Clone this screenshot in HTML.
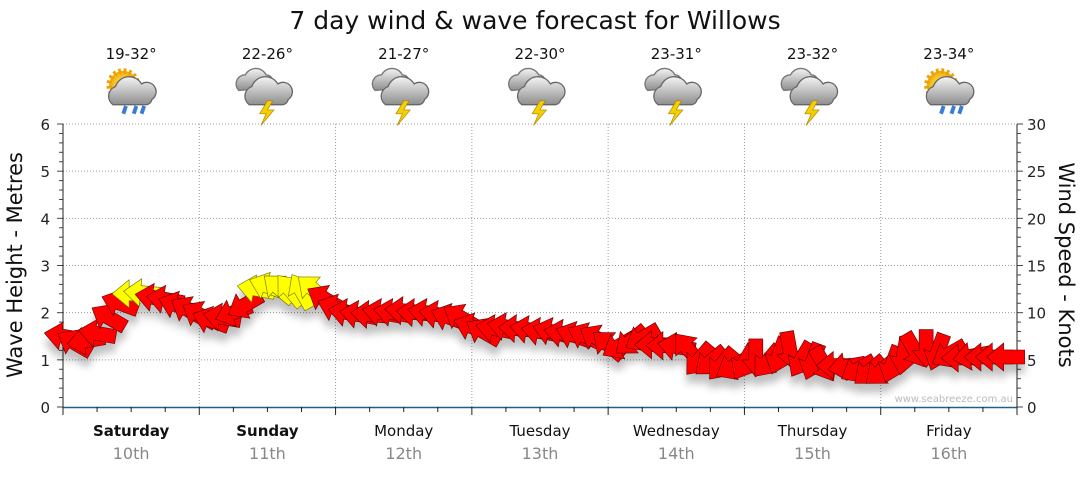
<!DOCTYPE html>
<html><head><meta charset="utf-8"><style>
body{margin:0;background:#fff;width:1080px;height:475px;overflow:hidden;font-family:"Liberation Sans","DejaVu Sans",sans-serif}
svg text{font-family:"DejaVu Sans","Liberation Sans",sans-serif}
</style></head><body>
<svg id="c" width="1080" height="475">
<defs>
<filter id="sh" x="-50%" y="-50%" width="200%" height="250%"><feGaussianBlur in="SourceAlpha" stdDeviation="4"/><feOffset dy="9"/><feComponentTransfer><feFuncA type="linear" slope="0.25"/></feComponentTransfer><feMerge><feMergeNode/><feMergeNode in="SourceGraphic"/></feMerge></filter>
<radialGradient id="sun" cx="50%" cy="50%" r="50%"><stop offset="0" stop-color="#fff27a"/><stop offset="1" stop-color="#f0a800"/></radialGradient>
<linearGradient id="cl" x1="0" y1="0" x2="0" y2="1"><stop offset="0" stop-color="#f4f4f4"/><stop offset="1" stop-color="#8e8e8e"/></linearGradient>
</defs>
<text x="535" y="29" text-anchor="middle" font-size="25" fill="#111">7 day wind &amp; wave forecast for Willows</text>
<g id="grid"></g><g id="axes"></g><g id="icons"></g><g id="arrows" filter="url(#sh)"></g>
<text x="1013" y="402" text-anchor="end" font-size="10" fill="#bbb">www.seabreeze.com.au</text>
<text transform="translate(22,265) rotate(-90)" text-anchor="middle" font-size="21" fill="#111">Wave Height - Metres</text>
<text transform="translate(1059,265) rotate(90)" text-anchor="middle" font-size="21" fill="#111">Wind Speed - Knots</text>
</svg>
<script>
const days=["Saturday","Sunday","Monday","Tuesday","Wednesday","Thursday","Friday"];
const dates=["10th","11th","12th","13th","14th","15th","16th"];
const temps=["19-32°","22-26°","21-27°","22-30°","23-31°","23-32°","23-34°"];
const iconTypes=["sunstorm","storm","storm","storm","storm","storm","sunstorm"];
const waveTicks=[0,1,2,3,4,5,6];
const windTicks=[0,5,10,15,20,25,30];
const windSpeed=[7.5,6.8,7.0,7.8,9.5,11.0,12.0,12.1,11.6,11.4,10.8,10.3,
9.8,9.2,9.5,10.0,10.8,12.5,12.8,12.6,12.4,12.3,12.5,11.5,
10.5,10.0,9.8,9.8,10.0,10.0,10.2,10.0,10.0,9.8,9.5,9.5,
8.5,8.0,8.3,8.5,8.3,8.2,8.0,8.0,7.8,7.6,7.5,7.3,
6.6,6.5,7.0,7.3,6.6,6.5,6.4,6.2,5.0,4.8,4.5,4.3,
4.7,5.2,4.8,5.4,6.0,5.0,4.8,4.5,4.4,4.3,4.0,3.8,
3.8,4.5,5.4,6.0,6.2,5.8,5.6,5.2,5.4,5.3,5.3,5.3];
const windDir=[100,120,80,100,120,110,90,95,100,100,110,120,
120,110,100,70,60,100,110,130,140,150,130,120,
110,100,100,95,100,100,95,95,100,100,110,120,
110,120,100,100,95,100,100,105,100,110,115,120,
130,60,50,60,90,90,100,140,40,50,40,60,
30,0,40,20,350,30,20,330,90,80,60,50,
50,20,10,330,0,20,60,90,80,90,90,90];
const X0=63,X1=1017,Y0=407,Y1=124,HOURS=168,STEP=2;
const xS=h=>X0+(X1-X0)*h/HOURS;
const yW=m=>Y0-(Y0-Y1)*m/6;
const yK=k=>Y0-(Y0-Y1)*k/30;
const NS="http://www.w3.org/2000/svg";
function mk(tag,at,parent){const e=document.createElementNS(NS,tag);for(const k in at)e.setAttribute(k,at[k]);parent.appendChild(e);return e;}
const grid=document.getElementById('grid'),axes=document.getElementById('axes'),icons=document.getElementById('icons'),arrows=document.getElementById('arrows');
waveTicks.forEach(v=>{if(v>0){const l=mk('line',{x1:X0,x2:X1,y1:yW(v),y2:yW(v),stroke:'#999','stroke-dasharray':'1,2'},grid);

}
const t=mk('text',{x:50,y:yW(v)+6,'text-anchor':'end','font-size':15,fill:'#222'},axes);t.textContent=v;

});
for(let i=0;i<=30;i++){const y=Y0-(Y0-Y1)*i/30;mk('line',{x1:X0-(i%5==0?6:4),x2:X0,y1:y,y2:y,stroke:'#444'},axes);}
windTicks.forEach(v=>{const t=mk('text',{x:1027,y:yK(v)+6,'font-size':15,fill:'#222'},axes);t.textContent=v;

});
for(let i=0;i<=30;i++){const y=yK(i);mk('line',{x1:X1,x2:X1+(i%5==0?6:4),y1:y,y2:y,stroke:'#444'},axes);}
mk('line',{x1:X0,x2:X0,y1:Y1,y2:Y0,stroke:'#222'},axes);
mk('line',{x1:X1,x2:X1,y1:Y1,y2:Y0,stroke:'#222'},axes);
mk('line',{x1:X0,x2:X1,y1:Y0+0.5,y2:Y0+0.5,stroke:'#1f5f8b','stroke-width':1.5},axes);
for(let h=0;h<=HOURS;h+=6){const x=xS(h);mk('line',{x1:x,x2:x,y1:Y0,y2:Y0+(h%24==0?8:5),stroke:'#222'},axes);}
days.forEach((d,i)=>{const cx=xS(i*24+12);
if(i>0){const l=mk('line',{x1:xS(i*24),x2:xS(i*24),y1:Y1,y2:Y0,stroke:'#999','stroke-dasharray':'1,2'},grid);

}
const t=mk('text',{x:cx,y:436,'text-anchor':'middle','font-size':15,fill:'#111','font-weight':i<2?'bold':'normal'},axes);t.textContent=d;


const t2=mk('text',{x:cx,y:459,'text-anchor':'middle','font-size':16,fill:'#888'},axes);t2.textContent=dates[i];


const t3=mk('text',{x:cx,y:59,'text-anchor':'middle','font-size':15,fill:'#111'},icons);t3.textContent=temps[i];


const g=mk('g',{transform:`translate(${cx},93) scale(1.3)`},icons);


if(iconTypes[i]=='sunstorm'){mk('circle',{cx:-6,cy:-6,r:11,fill:'url(#sun)',stroke:'#f0a000','stroke-dasharray':'2,2','stroke-width':4},g);}
else{mk('path',{d:'M-22,-2 a7,7 0 0 1 5,-12 a9,9 0 0 1 16,0 a6,6 0 0 1 4,10 z',fill:'url(#cl)',stroke:'#777'},g);}
mk('path',{d:'M-14,9 a8,8 0 0 1 2,-14 a11,11 0 0 1 20,-2 a7,7 0 0 1 8,12 a5,5 0 0 1 -4,4 z',fill:'url(#cl)',stroke:'#666'},g);
if(iconTypes[i]=='sunstorm'){mk('path',{d:'M-4,10 l-2,6 M4,10 l-2,6 M10,10 l-2,6',stroke:'#3a7bd5','stroke-width':3},g);}
else{mk('path',{d:'M0,6 l-6,10 h5 l-4,9 l10,-12 h-5 l4,-7 z',fill:'#f4d000',stroke:'#b08000','stroke-width':.5},g);}
});
windSpeed.forEach((k,i)=>{const x=xS(i*STEP),y=yK(k),rot=windDir[i]+90;
const p=mk('path',{d:'M-19,-7 L2,-7 L2,-14 L19,0 L2,14 L2,7 L-19,7 Z',transform:`translate(${x},${y}) rotate(${rot})`,fill:k>=11.8?'#ffff00':'#ff0000',stroke:k>=11.8?'#6b6b00':'#5a0000','stroke-width':.6},arrows);

});
</script>
</body></html>
